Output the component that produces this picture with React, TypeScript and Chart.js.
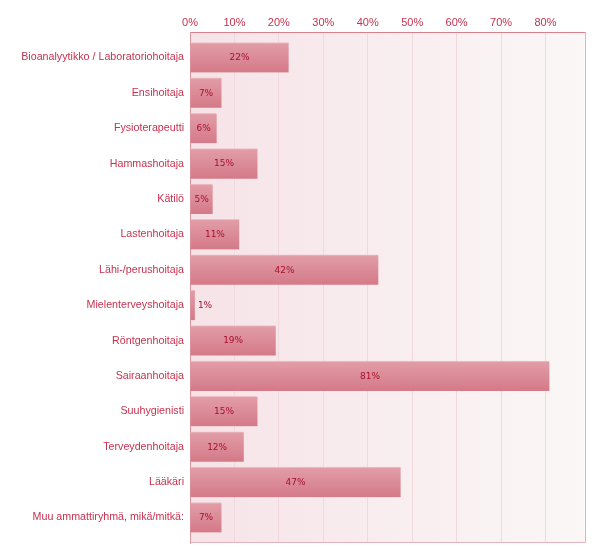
import { useEffect, useRef } from "react";
import { Chart, registerables } from "chart.js";

Chart.register(...registerables);

const categories = [
  "Bioanalyytikko / Laboratoriohoitaja",
  "Ensihoitaja",
  "Fysioterapeutti",
  "Hammashoitaja",
  "Kätilö",
  "Lastenhoitaja",
  "Lähi-/perushoitaja",
  "Mielenterveyshoitaja",
  "Röntgenhoitaja",
  "Sairaanhoitaja",
  "Suuhygienisti",
  "Terveydenhoitaja",
  "Lääkäri",
  "Muu ammattiryhmä, mikä/mitkä:",
];

const values = [22.2, 7.1, 6.0, 15.2, 5.1, 11.1, 42.4, 1.1, 19.3, 80.9, 15.2, 12.1, 47.4, 7.1];

const xMin = 0;
const xMax = 89;
const xStep = 10;

const labelColor = "#c6324f";
const valueColor = "#a80f30";

export default function App() {
  const ref = useRef<HTMLCanvasElement>(null);

  useEffect(() => {
    const canvas = ref.current!;

    const bgPlugin = {
      id: "plotBg",
      beforeDraw(chart: any) {
        const { ctx, chartArea } = chart;
        if (!chartArea) return;
        const { left, top, right, bottom } = chartArea;
        const g = ctx.createLinearGradient(left, 0, right, 0);
        g.addColorStop(0, "#f6e3e7");
        g.addColorStop(1, "#fbf7f7");
        ctx.save();
        ctx.fillStyle = g;
        ctx.fillRect(left, top, right - left, bottom - top);
        ctx.restore();
      },
      afterDraw(chart: any) {
        const { ctx, chartArea } = chart;
        const { left, top, right, bottom } = chartArea;
        ctx.save();
        ctx.strokeStyle = "#e2b3bb";
        ctx.lineWidth = 1;
        ctx.beginPath();
        const r = Math.round(right) - 0.5;
        const b = Math.round(bottom) - 0.5;
        ctx.moveTo(r, top);
        ctx.lineTo(r, b);
        ctx.lineTo(left, b);
        ctx.stroke();
        ctx.restore();
      },
    };

    const valuePlugin = {
      id: "valueLabels",
      afterDatasetsDraw(chart: any) {
        const { ctx } = chart;
        const meta = chart.getDatasetMeta(0);
        ctx.save();
        ctx.font = '9px "DejaVu Sans"';
        ctx.fillStyle = valueColor;
        ctx.textBaseline = "middle";
        meta.data.forEach((el: any, i: number) => {
          const { x, y, base } = el.getProps(["x", "y", "base"], true);
          const text = Math.round(values[i]) + "%";
          const w = ctx.measureText(text).width;
          if (w + 6 > x - base) {
            ctx.textAlign = "left";
            ctx.fillText(text, x + 3, y + 0.5);
          } else {
            ctx.textAlign = "center";
            ctx.fillText(text, (x + base) / 2, y + 0.5);
          }
        });
        ctx.restore();
      },
    };

    const chart = new Chart(canvas, {
      type: "bar",
      data: {
        datasets: [
          {
            data: values.map((v, i) => ({ x: v, y: i })),
            barThickness: 30,
            backgroundColor: (c: any) => {
              const ch = c.chart;
              const ys = ch.scales && ch.scales.y;
              if (!ys || !ch.chartArea) return "#dc8a96";
              const yc = ys.getPixelForValue(c.dataIndex);
              const g = ch.ctx.createLinearGradient(0, yc - 15, 0, yc + 15);
              g.addColorStop(0, "#e29ea8");
              g.addColorStop(1, "#d47988");
              return g;
            },
            borderColor: "#eebfc5",
            borderWidth: { top: 1, right: 0, bottom: 0, left: 0 },
          } as any,
        ],
      },
      options: {
        indexAxis: "y",
        responsive: false,
        devicePixelRatio: 1,
        animation: false,
        layout: { padding: { left: 0, top: 0, right: 14.5, bottom: 15 } },
        plugins: {
          legend: { display: false },
          tooltip: { enabled: false },
        },
        scales: {
          x: {
            type: "linear",
            position: "top",
            min: xMin,
            max: xMax,
            afterFit: (s: any) => {
              s.height = 32;
            },
            ticks: {
              stepSize: xStep,
              includeBounds: false,
              color: labelColor,
              font: { family: '"Liberation Sans"', size: 11 },
              padding: 2,
              callback: (v: any) => v + "%",
            },
            grid: { color: "#f0d8dc", drawTicks: false },
            border: { color: "#d9808c" },
          },
          y: {
            type: "linear",
            reverse: true,
            offset: false,
            min: -0.72,
            max: 13.72,
            afterFit: (s: any) => {
              s.width = 190;
            },
            ticks: {
              stepSize: 1,
              includeBounds: false,
              autoSkip: false,
              color: labelColor,
              font: { family: '"Liberation Sans"', size: 10.7 },
              padding: 6,
              callback: (v: any) => (Number.isInteger(v) && categories[v] !== undefined ? categories[v] : ""),
            },
            grid: { color: "rgba(0,0,0,0)", drawTicks: false, offset: false },
            border: { color: "#dc98a2" },
          },
        },
      } as any,
      plugins: [bgPlugin, valuePlugin],
    });

    return () => chart.destroy();
  }, []);

  return (
    <div style={{ position: "absolute", left: 0, top: 0, width: 600, height: 558 }}>
      <canvas ref={ref} width={600} height={558} style={{ width: 600, height: 558, display: "block" }} />
    </div>
  );
}
